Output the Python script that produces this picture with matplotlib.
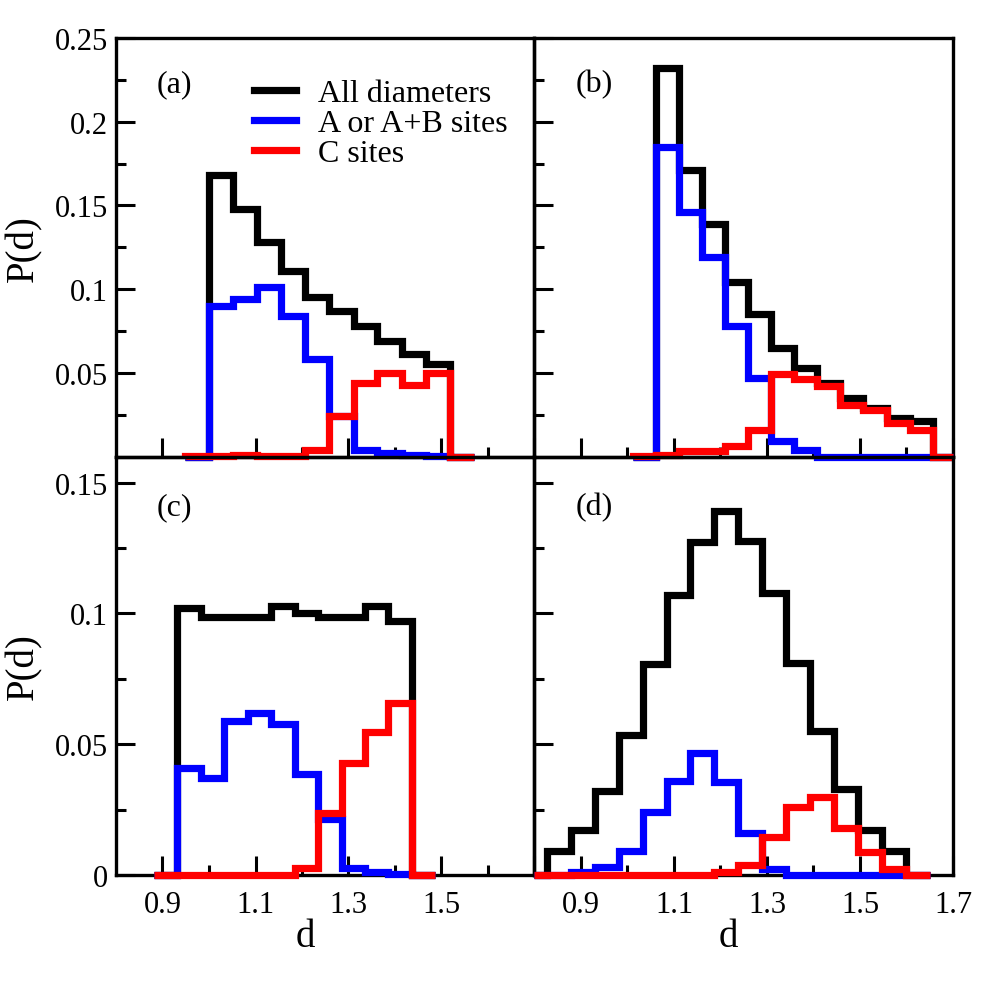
import matplotlib
matplotlib.use("Agg")
import matplotlib.pyplot as plt
from matplotlib.lines import Line2D

plt.rcParams['font.family'] = ['Liberation Serif', 'DejaVu Serif']

# (a)
edges_a = [0.948, 1.000, 1.052, 1.103, 1.155, 1.207, 1.259, 1.311, 1.362, 1.414, 1.466, 1.518, 1.570]
all_a = [0, 0.168, 0.148, 0.128, 0.111, 0.095, 0.087, 0.078, 0.069, 0.061, 0.055, 0]
ab_a = [0, 0.090, 0.094, 0.101, 0.084, 0.058, 0.024, 0.004, 0.002, 0.001, 0.0005, 0]
c_a = [0.0005, 0.0005, 0.001, 0.0005, 0.0005, 0.004, 0.024, 0.044, 0.050, 0.043, 0.050, 0]

# (b)
edges_b = [1.011, 1.061, 1.111, 1.160, 1.210, 1.259, 1.309, 1.359, 1.408, 1.458, 1.507, 1.557, 1.607, 1.656, 1.700]
all_b = [0, 0.232, 0.171, 0.139, 0.104, 0.085, 0.065, 0.053, 0.044, 0.035, 0.029, 0.023, 0.021, 0]
ab_b = [0, 0.185, 0.146, 0.119, 0.078, 0.047, 0.0095, 0.004, 0, 0, 0, 0, 0, 0]
c_b = [0.0005, 0.001, 0.003, 0.003, 0.006, 0.0156, 0.049, 0.046, 0.042, 0.031, 0.028, 0.020, 0.016, 0]

# (c)
edges_c = [0.882, 0.932, 0.983, 1.033, 1.084, 1.134, 1.184, 1.235, 1.285, 1.335, 1.386, 1.436, 1.486]
all_c = [0, 0.102, 0.0988, 0.0988, 0.0988, 0.103, 0.100, 0.0988, 0.0988, 0.103, 0.097, 0]
ab_c = [0, 0.041, 0.037, 0.0588, 0.062, 0.0578, 0.0388, 0.0213, 0.0028, 0.001, 0.0003, 0]
c_c = [0, 0, 0, 0, 0, 0, 0.0028, 0.0238, 0.0428, 0.0546, 0.0658, 0]

# (d)
edges_d = [0.800, 0.827, 0.878, 0.930, 0.981, 1.033, 1.084, 1.135, 1.187, 1.238, 1.290, 1.341, 1.392,
           1.444, 1.495, 1.547, 1.598, 1.650]
all_d = [0, 0.009, 0.0172, 0.032, 0.0537, 0.0805, 0.107, 0.1275, 0.139, 0.1276, 0.108, 0.081, 0.055,
         0.0329, 0.0173, 0.009, 0]
ab_d = [0, 0, 0.001, 0.003, 0.0092, 0.024, 0.036, 0.0466, 0.0355, 0.016, 0.0024, 0, 0, 0, 0, 0, 0]
c_d = [0, 0, 0, 0, 0, 0, 0, 0, 0.0013, 0.004, 0.0146, 0.026, 0.030, 0.018, 0.0087, 0.0022, 0]

labels = ["All diameters", "A or A+B sites", "C sites"]
colors = ["black", "blue", "red"]

x_major = [0.9, 1.1, 1.3, 1.5, 1.7]
x_minor = [1.0, 1.2, 1.4, 1.6]
top_y = [0.05, 0.1, 0.15, 0.2, 0.25]
top_y_lab = ["0.05", "0.1", "0.15", "0.2", "0.25"]
top_y_minor = [0.025, 0.075, 0.125, 0.175, 0.225]
bot_y = [0, 0.05, 0.1, 0.15]
bot_y_lab = ["0", "0.05", "0.1", "0.15"]
bot_y_minor = [0.025, 0.075, 0.125]

fig = plt.figure(figsize=(10.04, 10.04), dpi=100)
L, R = 116 / 1004, 953 / 1004
T, B = 1 - 39 / 1004, 1 - 876 / 1004
W = (R - L) / 2
H = (T - B) / 2

ax_a = fig.add_axes([L, B + H, W, H])
ax_b = fig.add_axes([L + W, B + H, W, H])
ax_c = fig.add_axes([L, B, W, H])
ax_d = fig.add_axes([L + W, B, W, H])

panels = [
    (ax_a, edges_a, [all_a, ab_a, c_a], "(a)"),
    (ax_b, edges_b, [all_b, ab_b, c_b], "(b)"),
    (ax_c, edges_c, [all_c, ab_c, c_c], "(c)"),
    (ax_d, edges_d, [all_d, ab_d, c_d], "(d)"),
]

for ax, edges, series, tag in panels:
    ax.patch.set_alpha(0)
    for vals, col in zip(series, colors):
        ax.stairs(vals, edges, baseline=0, color=col, lw=5.2, clip_on=False, zorder=3)
    ax.set_xlim(0.8, 1.7)
    ax.set_xticks(x_major)
    ax.set_xticks(x_minor, minor=True)
    ax.tick_params(which='both', direction='in', top=False, right=False, width=2.2, labelsize=22)
    ax.tick_params(which='major', length=14)
    ax.tick_params(which='minor', length=7)
    ax.tick_params(axis='x', pad=11)
    ax.tick_params(axis='y', pad=6)
    for sp in ax.spines.values():
        sp.set_linewidth(2.4)
    ytop = 0.89 if tag in ("(a)", "(b)") else 0.88
    ax.text(0.098, ytop, tag, transform=ax.transAxes, fontsize=23, va='center', ha='left')

for ax in (ax_a, ax_b):
    ax.set_ylim(0, 0.25)
    ax.set_yticks(top_y)
    ax.set_yticks(top_y_minor, minor=True)
    ax.set_xticklabels([])
for ax in (ax_c, ax_d):
    ax.set_ylim(0, 0.16)
    ax.set_yticks(bot_y)
    ax.set_yticks(bot_y_minor, minor=True)

ax_a.set_yticklabels(top_y_lab)
ax_c.set_yticklabels(bot_y_lab)
ax_b.set_yticklabels([])
ax_d.set_yticklabels([])
ax_c.set_xticklabels(["0.9", "1.1", "1.3", "1.5", ""])
ax_d.set_xticklabels(["0.9", "1.1", "1.3", "1.5", "1.7"])

ax_a.set_ylabel("P(d)", fontsize=28)
ax_c.set_ylabel("P(d)", fontsize=28)
ax_a.yaxis.set_label_coords(-0.175, 0.5)
ax_c.yaxis.set_label_coords(-0.175, 0.5)
ax_c.set_xlabel("d", fontsize=28)
ax_d.set_xlabel("d", fontsize=28)
ax_c.xaxis.set_label_coords(0.453, -0.103)
ax_d.xaxis.set_label_coords(0.464, -0.103)

handles = [Line2D([], [], color=c, lw=5.2) for c in colors]
ax_a.legend(handles, labels, loc='upper left', bbox_to_anchor=(0.329, 0.902), frameon=False,
            fontsize=23, handlelength=1.31, handletextpad=0.69, labelspacing=0.02,
            borderpad=0, borderaxespad=0)

fig.savefig("out.png", dpi=100)
